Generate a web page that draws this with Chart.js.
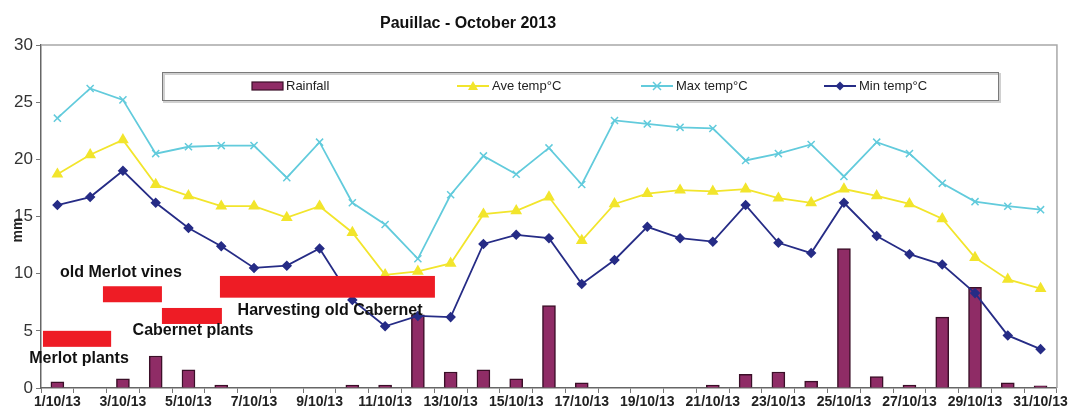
<!DOCTYPE html>
<html>
<head>
<meta charset="utf-8">
<script src="https://cdn.jsdelivr.net/npm/chart.js@4/dist/chart.umd.min.js"></script>
<style>
html, body { margin: 0; padding: 0; background: #fff; }
#caixa { width: 1069px; height: 412px; }
</style>
</head>
<body>
<div id="caixa"><canvas id="grafico"></canvas></div>
<script>
'use strict';
// DADOS DO GRAFICO (Pauillac - outubro 2013)

const dias = ['1/10/13', '2/10/13', '3/10/13', '4/10/13', '5/10/13', '6/10/13', '7/10/13', '8/10/13',
    '9/10/13', '10/10/13', '11/10/13', '12/10/13', '13/10/13', '14/10/13', '15/10/13', '16/10/13',
    '17/10/13', '18/10/13', '19/10/13', '20/10/13', '21/10/13', '22/10/13', '23/10/13', '24/10/13',
    '25/10/13', '26/10/13', '27/10/13', '28/10/13', '29/10/13', '30/10/13', '31/10/13'];

const chuva = [0.55, 0, 0.8, 2.8, 1.6, 0.25, 0, 0, 0, 0.25, 0.25, 6.4, 1.4, 1.6, 0.8, 7.2,
    0.45, 0, 0, 0, 0.25, 1.2, 1.4, 0.6, 12.2, 1.0, 0.25, 6.2, 8.8, 0.45, 0.2];

const tempMedia = [18.7, 20.4, 21.7, 17.8, 16.8, 15.9, 15.9, 14.9, 15.9, 13.6, 9.9, 10.2, 10.9, 15.2, 15.5, 16.7,
    12.9, 16.1, 17.0, 17.3, 17.2, 17.4, 16.6, 16.2, 17.4, 16.8, 16.1, 14.8, 11.4, 9.5, 8.7];

const tempMax = [23.6, 26.2, 25.2, 20.5, 21.1, 21.2, 21.2, 18.4, 21.5, 16.2, 14.3, 11.3, 16.9, 20.3, 18.7, 21.0,
    17.8, 23.4, 23.1, 22.8, 22.7, 19.9, 20.5, 21.3, 18.5, 21.5, 20.5, 17.9, 16.3, 15.9, 15.6];

const tempMin = [16.0, 16.7, 19.0, 16.2, 14.0, 12.4, 10.5, 10.7, 12.2, 7.7, 5.4, 6.3, 6.2, 12.6, 13.4, 13.1,
    9.1, 11.2, 14.1, 13.1, 12.8, 16.0, 12.7, 11.8, 16.2, 13.3, 11.7, 10.8, 8.3, 4.6, 3.4];

const escalaY = [0, 5, 10, 15, 20, 25, 30];

// faixas vermelhas (dia inicial/final, mm)
const faixaTexto = ['Merlot plants', 'old Merlot vines', 'Cabernet plants', 'Harvesting old Cabernet'];
const faixaInicio = [0.56, 2.39, 4.19, 5.96];
const faixaFim = [2.64, 4.19, 6.02, 12.52];
const faixaTopo = [5.0, 8.9, 7.0, 9.8];
const faixaBase = [3.6, 7.5, 5.6, 7.9];
const textoDia = [1.66, 2.94, 5.14, 9.32];
const textoValor = [2.6, 10.1, 5.0, 6.8];

const FONTE = '"Liberation Sans", Arial, sans-serif';
const corChuva = '#8f2c66';
const corMedia = '#f2e52c';
const corMax = '#62cbdc';
const corMin = '#262c86';

function marcador(ctx, tipo, x, y, cor) {
    ctx.save();
    ctx.fillStyle = cor;
    ctx.strokeStyle = cor;
    ctx.lineWidth = 1.5;
    ctx.beginPath();
    if (tipo === 'triangle') {
        ctx.moveTo(x, y - 5); ctx.lineTo(x + 5, y + 4); ctx.lineTo(x - 5, y + 4); ctx.closePath(); ctx.fill();
    } else if (tipo === 'cross') {
        ctx.moveTo(x - 4, y - 4); ctx.lineTo(x + 4, y + 4); ctx.moveTo(x + 4, y - 4); ctx.lineTo(x - 4, y + 4); ctx.stroke();
    } else {
        ctx.moveTo(x, y - 4.5); ctx.lineTo(x + 4.5, y); ctx.lineTo(x, y + 4.5); ctx.lineTo(x - 4.5, y); ctx.closePath(); ctx.fill();
    }
    ctx.restore();
}

const extras = {
    id: 'extras',
    beforeDatasetsDraw(chart) {
        const {ctx, chartArea: a} = chart;
        ctx.save();
        ctx.strokeStyle = '#a8a8a8';
        ctx.lineWidth = 1.5;
        ctx.beginPath();
        ctx.moveTo(a.left, a.top); ctx.lineTo(a.right, a.top); ctx.lineTo(a.right, a.bottom);
        ctx.stroke();

        // legenda dentro da area
        ctx.fillStyle = '#fff';
        ctx.fillRect(162, 72, 836, 28);
        ctx.strokeStyle = '#d0d0d0';
        ctx.lineWidth = 2;
        ctx.strokeRect(164, 74, 836, 28);
        ctx.strokeStyle = '#7a7a7a';
        ctx.lineWidth = 1;
        ctx.strokeRect(162.5, 72.5, 836, 28);

        // titulo do eixo y (fica por baixo do "15", como no original)
        ctx.translate(18, 230);
        ctx.rotate(-Math.PI / 2);
        ctx.font = 'bold 14px ' + FONTE;
        ctx.textAlign = 'center';
        ctx.textBaseline = 'middle';
        ctx.fillStyle = '#222';
        ctx.fillText('mm', 0, 0);
        ctx.restore();
    },
    afterDatasetsDraw(chart) {
        const {ctx, scales: {x, y}} = chart;
        ctx.save();
        // faixas de colheita / plantas
        ctx.fillStyle = '#ee1c25';
        faixaTexto.forEach((t, i) => {
            const x0 = x.getPixelForValue(faixaInicio[i] - 1);
            const x1 = x.getPixelForValue(faixaFim[i] - 1);
            const y0 = y.getPixelForValue(faixaTopo[i]);
            const y1 = y.getPixelForValue(faixaBase[i]);
            ctx.fillRect(x0, y0, x1 - x0, y1 - y0);
        });
        ctx.fillStyle = '#111';
        ctx.font = 'bold 16px ' + FONTE;
        ctx.textAlign = 'center';
        ctx.textBaseline = 'middle';
        faixaTexto.forEach((t, i) => {
            ctx.fillText(t, x.getPixelForValue(textoDia[i] - 1), y.getPixelForValue(textoValor[i]));
        });

        // itens da legenda
        const ly = 86;
        ctx.font = '13px ' + FONTE;
        ctx.textAlign = 'left';
        ctx.fillStyle = corChuva;
        ctx.fillRect(252, ly - 4, 31, 8);
        ctx.strokeStyle = '#3b0f28';
        ctx.lineWidth = 1.2;
        ctx.strokeRect(252, ly - 4, 31, 8);
        ctx.fillStyle = '#222';
        ctx.fillText('Rainfall', 286, ly);

        const itens = [
            ['Ave temp°C', corMedia, 'triangle', 457],
            ['Max temp°C', corMax, 'cross', 641],
            ['Min temp°C', corMin, 'diamond', 824]
        ];
        itens.forEach(([txt, cor, tipo, lx]) => {
            ctx.strokeStyle = cor;
            ctx.lineWidth = 2;
            ctx.beginPath();
            ctx.moveTo(lx, ly); ctx.lineTo(lx + 32, ly);
            ctx.stroke();
            marcador(ctx, tipo, lx + 16, ly, cor);
            ctx.fillStyle = '#222';
            ctx.fillText(txt, lx + 35, ly);
        });

        // titulo
        ctx.font = 'bold 16px ' + FONTE;
        ctx.textAlign = 'center';
        ctx.fillStyle = '#111';
        ctx.fillText('Pauillac - October 2013', 468, 24);
        ctx.restore();
    }
};

const ctx = document.getElementById('grafico').getContext('2d');
const grafico = new Chart(ctx, {
    type: 'bar',
    plugins: [extras],
    data: {
        labels: dias,
        datasets: [
            {
                type: 'line', label: 'Min temp°C', data: tempMin, order: 1,
                borderColor: corMin, backgroundColor: corMin, borderWidth: 1.8,
                pointStyle: 'rectRot', pointRadius: 4, tension: 0
            },
            {
                type: 'line', label: 'Max temp°C', data: tempMax, order: 2,
                borderColor: corMax, backgroundColor: corMax, borderWidth: 1.8,
                pointStyle: 'crossRot', pointRadius: 5, pointBorderWidth: 1.5, tension: 0
            },
            {
                type: 'line', label: 'Ave temp°C', data: tempMedia, order: 3,
                borderColor: corMedia, backgroundColor: corMedia, borderWidth: 1.8,
                pointStyle: 'triangle', pointRadius: 5, tension: 0
            },
            {
                label: 'Rainfall', data: chuva, order: 4,
                backgroundColor: corChuva, borderColor: '#3b0f28', borderWidth: 1.5,
                barThickness: 13
            }
        ]
    },
    options: {
        responsive: true,
        maintainAspectRatio: false,
        animation: false,
        layout: { padding: { top: 45, right: 12, left: 0, bottom: 0 } },
        scales: {
            x: {
                afterFit: (s) => { s.height = 24; },
                grid: { offset: true, drawOnChartArea: false, drawTicks: true, tickLength: 5, color: '#777' },
                border: { color: '#666', width: 1.5 },
                ticks: {
                    autoSkip: false, maxRotation: 0, padding: 1, color: '#222',
                    font: { family: FONTE, size: 14, weight: 'bold' },
                    callback: function (v, i) { return i % 2 === 0 ? this.getLabelForValue(v) : ''; }
                }
            },
            y: {
                min: 0, max: 30,
                afterFit: (s) => { s.width = 41; },
                afterBuildTicks: (s) => { s.ticks = escalaY.map(v => ({value: v})); },
                grid: { drawOnChartArea: false, tickLength: 5, color: '#777' },
                border: { color: '#666', width: 1.5 },
                ticks: { color: '#333', padding: 3, font: { family: FONTE, size: 17 } }
            }
        },
        plugins: {
            legend: { display: false },
            tooltip: { enabled: false }
        }
    }
});
</script>
</body>
</html>
